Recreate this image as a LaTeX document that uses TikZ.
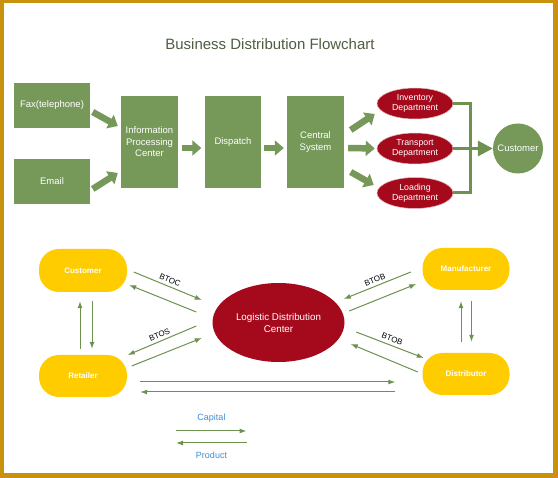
\documentclass[tikz,border=0pt]{standalone}
\usepackage{fontspec}
\setmainfont{Liberation Sans}
\usetikzlibrary{shapes.geometric,arrows.meta}
\definecolor{frame}{HTML}{C8920E}
\definecolor{boxgreen}{HTML}{76995A}
\definecolor{linegreen}{HTML}{6E9150}
\definecolor{deptred}{HTML}{A50A1C}
\definecolor{gold}{HTML}{FFCC00}
\definecolor{titlegray}{HTML}{4E5E40}
\definecolor{legendblue}{HTML}{3D8FD6}

\begin{document}
\begin{tikzpicture}[x=1pt,y=-1pt,
    greenbox/.style={rectangle, fill=boxgreen, text=white, align=center,
      inner sep=0pt, font=\fontsize{9.5}{11.5}\selectfont},
    deptnode/.style={ellipse, fill=deptred, draw=white!70!deptred, line width=0.5pt,
      text=white, align=center, inner sep=0pt, minimum width=76pt,
      minimum height=31pt, font=\fontsize{8.8}{10}\selectfont},
    yellowbox/.style={rectangle, rounded corners=20pt, fill=gold, text=white,
      inner sep=0pt, minimum height=42pt, font=\bfseries\fontsize{8}{10}\selectfont},
    fatarrow/.style={draw=boxgreen, line width=6.5pt, -{Triangle[length=9pt,width=15pt]}},
    deptline/.style={draw=linegreen, line width=3pt},
    thinarrow/.style={draw=linegreen, line width=1pt, -{Latex[length=7pt,width=5pt]}},
    flowlabel/.style={font=\fontsize{8}{9}\selectfont, text=black, inner sep=3pt},
    legendtext/.style={font=\fontsize{9}{10}\selectfont, text=legendblue}
  ]
  % frame
  \useasboundingbox (0,0) rectangle (558,478);
  \fill[frame] (0,0) rectangle (558,478);
  \fill[white] (4,3) rectangle (553,473);
  % title
  \node[font=\fontsize{15}{18}\selectfont, text=titlegray] (title) at (270,44)
    {Business Distribution Flowchart};

  % order channels
  \node[greenbox, minimum width=76pt, minimum height=45pt] (fax) at (52,105.5) {Fax(telephone)};
  \node[greenbox, minimum width=76pt, minimum height=45pt] (email) at (52,181.5) {Email};
  % processing chain
  \node[greenbox, minimum width=57pt, minimum height=92pt] (info) at (149.5,142)
    {Information\\Processing\\Center};
  \node[greenbox, minimum width=56pt, minimum height=92pt] (disp) at (233,142) {Dispatch};
  \node[greenbox, minimum width=57pt, minimum height=92pt] (central) at (315.5,142)
    {Central\\System};
  % departments
  \node[deptnode] (inv) at (415,103.5) {Inventory\\Department};
  \node[deptnode] (trans) at (415,148.5) {Transport\\Department};
  \node[deptnode] (load) at (415,193) {Loading\\Department};
  \node[circle, fill=boxgreen, text=white, minimum size=50pt, inner sep=0pt,
    font=\fontsize{9.5}{11}\selectfont] (cust1) at (518,148.5) {Customer};

  % block arrows
  \draw[fatarrow] ([shift={(2.5,6.5)}]fax.east) -- ([shift={(-3,-16)}]info.west);
  \draw[fatarrow] ([shift={(2.5,7.5)}]email.east) -- ([shift={(-3,31)}]info.west);
  \draw[fatarrow] ([shift={(3.5,6)}]info.east) -- ([shift={(-3.5,6)}]disp.west);
  \draw[fatarrow] ([shift={(3,6)}]disp.east) -- ([shift={(-3,6)}]central.west);
  \draw[fatarrow] ([shift={(6.5,-12)}]central.east) -- ([shift={(-2,10.5)}]inv.west);
  \draw[fatarrow] ([shift={(4,6)}]central.east) -- ([shift={(-2,0)}]trans.west);
  \draw[fatarrow] ([shift={(6.5,30)}]central.east) -- ([shift={(-3,-8)}]load.west);
  % departments to customer
  \draw[deptline] (inv.east) -- ++(17,0) |- (load.east);
  \draw[deptline, -{Triangle[length=15pt,width=15pt]}] (trans.east) -- (cust1.west);

  % partners
  \node[yellowbox, minimum width=88pt, minimum height=43pt] (cust2) at (83,270.5) {Customer};
  \node[yellowbox, minimum width=88pt] (ret) at (83,376) {Retailer};
  \node[yellowbox, minimum width=87pt] (mfr) at (466,269) {Manufacturer};
  \node[yellowbox, minimum width=87pt] (dist) at (466,374) {Distributor};
  % logistic center
  \node[ellipse, fill=deptred, text=white, align=center, minimum width=132pt,
    minimum height=79pt, inner sep=0pt, font=\fontsize{9.8}{12}\selectfont] (ldc)
    at (278.5,322.5) {Logistic Distribution\\Center};

  % flows with the center
  \draw[thinarrow] ([shift={(6.5,1.5)}]cust2.east) -- ([shift={(-10.5,-22.5)}]ldc.west)
    node[flowlabel, midway, above, sloped] {BTOC};
  \draw[thinarrow] ([shift={(-16,-10.5)}]ldc.west) -- ([shift={(2,14.5)}]cust2.east);
  \draw[thinarrow] ([shift={(-16,3.5)}]ldc.west) -- ([shift={(0.5,-21)}]ret.east)
    node[flowlabel, midway, above, sloped] {BTOS};
  \draw[thinarrow] ([shift={(4.5,-10)}]ret.east) -- ([shift={(-10.5,15.5)}]ldc.west);
  \draw[thinarrow] ([shift={(-11.5,3)}]mfr.west) -- ([shift={(-1,-23.5)}]ldc.east)
    node[flowlabel, midway, above, sloped] {BTOB};
  \draw[thinarrow] ([shift={(4.5,-11.5)}]ldc.east) -- ([shift={(-6,15)}]mfr.west);
  \draw[thinarrow] ([shift={(11.5,9.5)}]ldc.east) -- ([shift={(1.5,-16)}]dist.west)
    node[flowlabel, midway, above, sloped] {BTOB};
  \draw[thinarrow] ([shift={(-4.5,-2)}]dist.west) -- ([shift={(6,21.5)}]ldc.east);
  % flows between partners
  \draw[thinarrow] ([shift={(-3,-6)}]ret.north) -- ([shift={(-3,9)}]cust2.south);
  \draw[thinarrow] ([shift={(9,9)}]cust2.south) -- ([shift={(9,-6)}]ret.north);
  \draw[thinarrow] ([shift={(-5,-11)}]dist.north) -- ([shift={(-5,11)}]mfr.south);
  \draw[thinarrow] ([shift={(5.5,11)}]mfr.south) -- ([shift={(5.5,-11)}]dist.north);
  \draw[thinarrow] ([shift={(13,6)}]ret.east) -- ([shift={(-27,8)}]dist.west);
  \draw[thinarrow] ([shift={(-27,18)}]dist.west) -- ([shift={(13,16)}]ret.east);

  % legend
  \node[legendtext] (capital) at (211.5,418) {Capital};
  \node[legendtext] (product) at (211.5,455) {Product};
  \coordinate (capL) at (176,431);
  \coordinate (capR) at (246.5,431);
  \coordinate (prodL) at (176,443);
  \coordinate (prodR) at (246.5,443);
  \draw[thinarrow] (capL) -- (capR);
  \draw[thinarrow] (prodR) -- (prodL);
\end{tikzpicture}
\end{document}
